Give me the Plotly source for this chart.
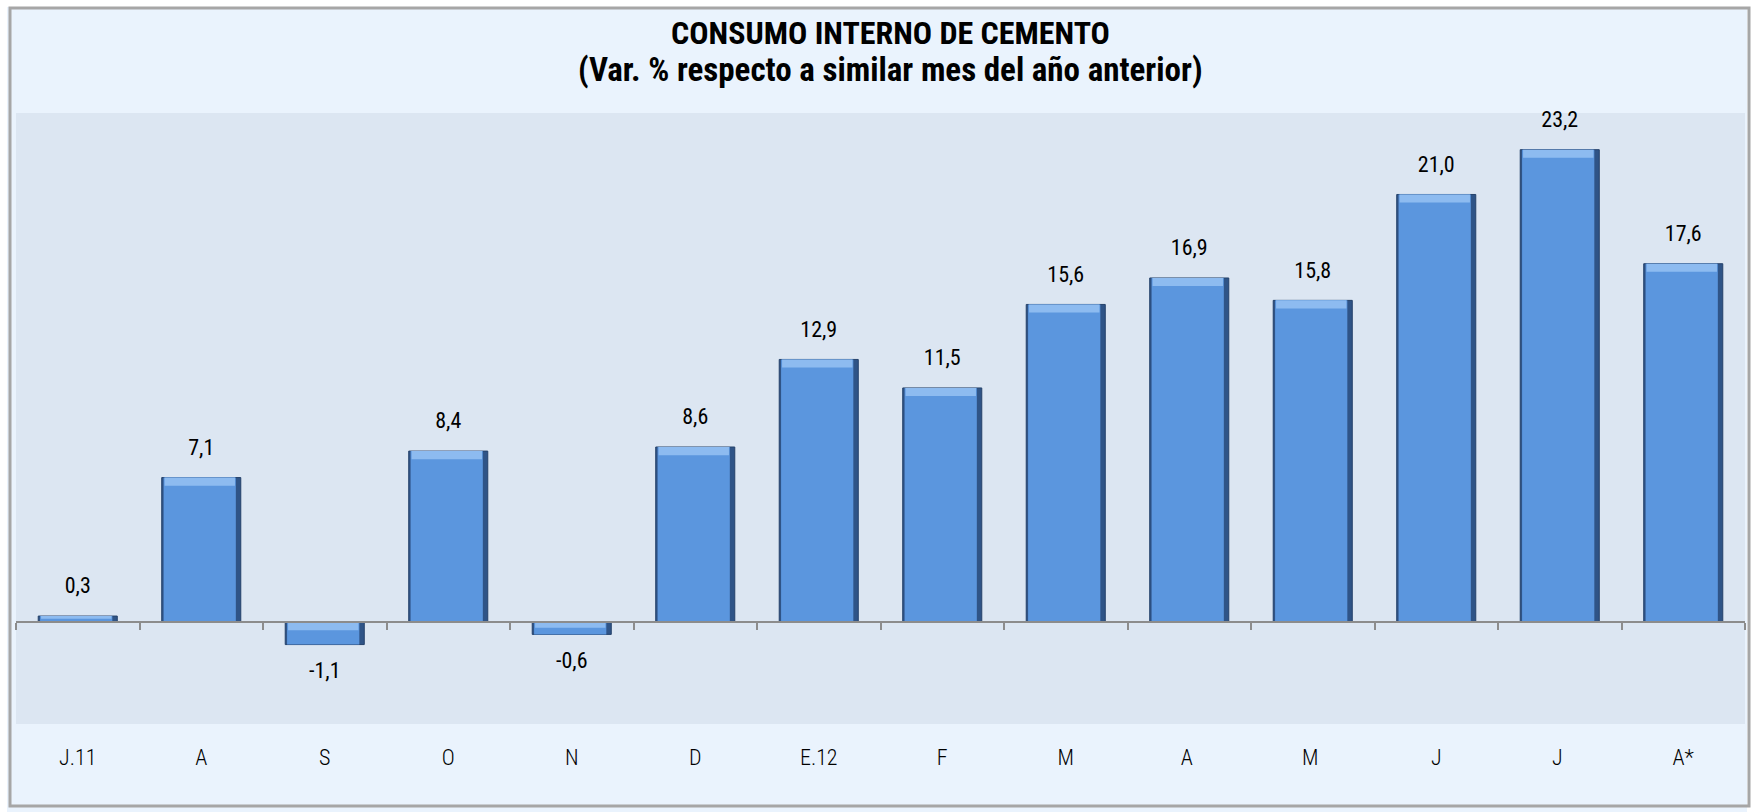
import plotly.graph_objects as go

categories = ["J.11", "A", "S", "O", "N", "D", "E.12", "F", "M", "A ", "M ", "J", "J ", "A*"]
values = [0.3, 7.1, -1.1, 8.4, -0.6, 8.6, 12.9, 11.5, 15.6, 16.9, 15.8, 21.0, 23.2, 17.6]
labels = [f"{v:.1f}".replace(".", ",") for v in values]
title_lines = ["CONSUMO INTERNO DE CEMENTO", "(Var. % respecto a similar mes del año anterior)"]

FONT = "Liberation Sans Narrow, Arial Narrow, Roboto Condensed, Liberation Sans, sans-serif"
W, H = 1754, 812
L, R, T, B = 16, 9, 113, 88
pw, ph = W - L - R, H - T - B

def px_x(p):
    return (p - L) / pw

def px_y(p):
    return (H - B - p) / ph

# bevel highlight band at the top of each bar (derived from the values)
tops = [max(v, 0) for v in values]
band = [min(0.4, abs(v) * 0.45) for v in values]
hl_base = [t - b for t, b in zip(tops, band)]
label_pos = ["top center" if v >= 0 else "bottom center" for v in values]

fig = go.Figure()
# dark edge body
fig.add_trace(go.Bar(
    x=categories, y=values,
    marker=dict(color="#2F5487", line=dict(color="#25426B", width=1)),
    width=0.64, hoverinfo="skip",
))
# main face
fig.add_trace(go.Bar(
    x=categories, y=values,
    marker=dict(color="#5B96DE", line=dict(width=0)),
    width=0.585, offset=-0.305,
))
# top highlight band
fig.add_trace(go.Bar(
    x=categories, y=band, base=hl_base,
    marker=dict(color="#8DBBF0", line=dict(width=0)),
    width=0.57, offset=-0.297, hoverinfo="skip",
))
# value labels
fig.add_trace(go.Scatter(
    x=categories, y=values, mode="markers+text",
    text=labels, textposition=label_pos, cliponaxis=False,
    marker=dict(size=26, opacity=0),
    textfont=dict(family=FONT, size=22, color="#000000"),
    hoverinfo="skip",
))
# invisible trace to drive the zero-line axis with boundary ticks
fig.add_trace(go.Scatter(x=categories, y=[0] * len(categories), mode="markers",
                         marker=dict(opacity=0), xaxis="x2", yaxis="y",
                         hoverinfo="skip", showlegend=False))

annotations = [
    dict(text=f"<b>{title_lines[0]}</b>", xref="paper", yref="paper",
         x=px_x(890), y=px_y(33), xanchor="center", yanchor="middle", showarrow=False,
         font=dict(family=FONT, size=32, color="#000000")),
    dict(text=f"<b>{title_lines[1]}</b>", xref="paper", yref="paper",
         x=px_x(890), y=px_y(70), xanchor="center", yanchor="middle", showarrow=False,
         font=dict(family=FONT, size=33, color="#000000")),
]

fig.update_layout(
    width=W, height=H,
    margin=dict(l=L, r=R, t=T, b=B),
    paper_bgcolor="#EAF3FD",
    plot_bgcolor="#DCE6F2",
    showlegend=False,
    barmode="overlay",
    annotations=annotations,
    xaxis=dict(
        type="category", categoryorder="array", categoryarray=categories,
        range=[-0.5, len(categories) - 0.5],
        showline=False, showgrid=False, zeroline=False, ticks="",
        ticklabelstandoff=18,
        tickfont=dict(family=FONT, size=22, color="#000000", weight=300),
    ),
    xaxis2=dict(
        type="category", categoryorder="array", categoryarray=categories,
        range=[-0.5, len(categories) - 0.5],
        overlaying="x", anchor="free", position=5 / 30,
        showline=True, linecolor="#8C8C8C", linewidth=1.5,
        ticks="outside", tickson="boundaries", ticklen=7, tickcolor="#8C8C8C", tickwidth=1.5,
        showticklabels=False, showgrid=False, zeroline=False,
    ),
    yaxis=dict(range=[-5, 25], visible=False, showgrid=False, zeroline=False),
    shapes=[
        dict(type="rect", xref="paper", yref="paper", layer="above",
             x0=px_x(-8), x1=px_x(W + 8), y0=px_y(H + 60), y1=px_y(-8),
             line=dict(color="#FFFFFF", width=30)),
        dict(type="rect", xref="paper", yref="paper", layer="above",
             x0=px_x(10), x1=px_x(1749), y0=px_y(806), y1=px_y(8),
             line=dict(color="#A6A6A6", width=3)),
    ],
)

fig.write_html("out.html", config={"displayModeBar": False},
               post_script="document.body.style.margin='0';")
